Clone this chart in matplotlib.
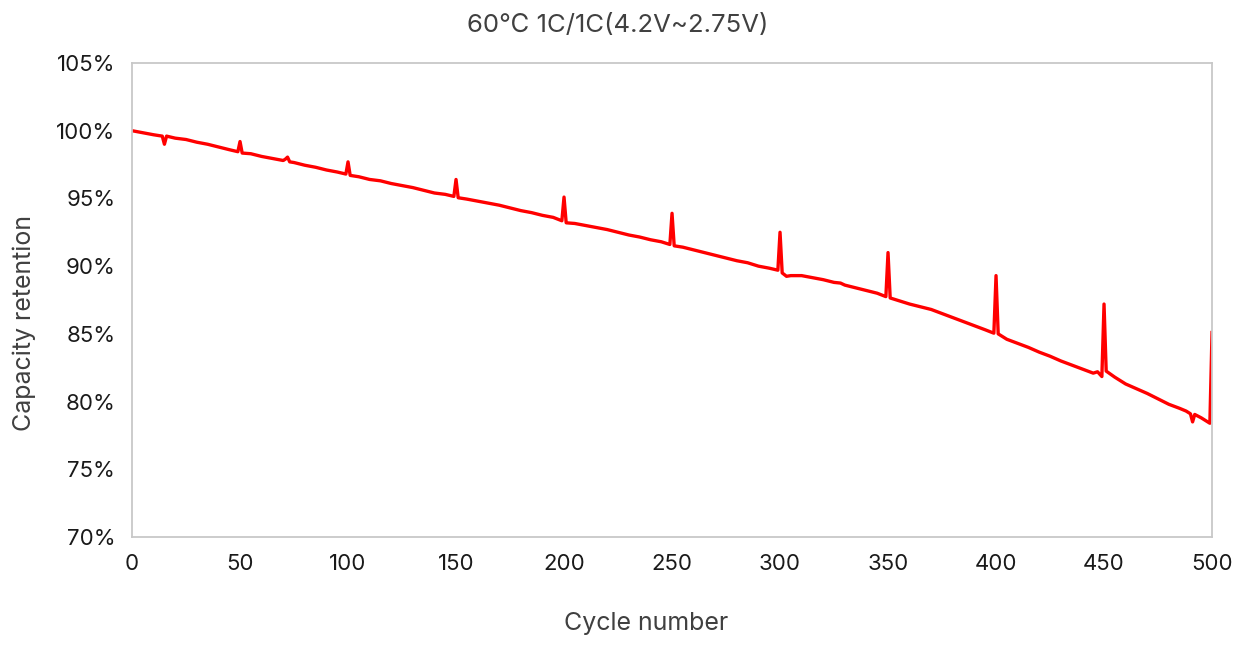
import matplotlib
matplotlib.use("Agg")
import matplotlib.pyplot as plt
from matplotlib.ticker import FuncFormatter

plt.rcParams["font.family"] = ["Inter", "Noto Sans CJK KR", "DejaVu Sans"]

# cycle-life test, capacity retention (%)
CYCLES = [0, 5, 10, 14, 15, 16, 20, 25, 30, 35, 40, 45, 49, 50, 51, 55, 60, 65, 70, 71, 72, 73, 75, 80,
          85, 90, 95, 99, 100, 101, 105, 110, 115, 120, 125, 130, 135, 140, 145, 149, 150, 151, 155,
          160, 165, 170, 175, 180, 185, 190, 195, 199, 200, 201, 205, 210, 215, 220, 225, 230, 235,
          240, 245, 249, 250, 251, 255, 260, 265, 270, 275, 280, 285, 290, 295, 299, 300, 301, 303,
          305, 310, 315, 320, 325, 328, 330, 335, 340, 345, 349, 350, 351, 355, 360, 365, 370, 375,
          380, 385, 390, 395, 399, 400, 401, 405, 410, 415, 420, 425, 430, 435, 440, 445, 447, 449,
          450, 451, 455, 460, 465, 470, 475, 480, 485, 488, 490, 491, 492, 495, 499, 500]
RETENTION = [100.0, 99.85, 99.7, 99.6, 99.0, 99.6, 99.45, 99.35, 99.15, 99.0, 98.8, 98.6, 98.45, 99.2,
             98.35, 98.3, 98.1, 97.95, 97.8, 97.9, 98.05, 97.7, 97.65, 97.45, 97.3, 97.1, 96.95, 96.8,
             97.7, 96.7, 96.6, 96.4, 96.3, 96.1, 95.95, 95.8, 95.6, 95.4, 95.3, 95.15, 96.4, 95.05,
             94.95, 94.8, 94.65, 94.5, 94.3, 94.1, 93.95, 93.75, 93.6, 93.35, 95.1, 93.2, 93.15, 93.0,
             92.85, 92.7, 92.5, 92.3, 92.15, 91.95, 91.8, 91.6, 93.9, 91.5, 91.4, 91.2, 91.0, 90.8,
             90.6, 90.4, 90.25, 90.0, 89.85, 89.7, 92.5, 89.5, 89.25, 89.3, 89.3, 89.15, 89.0, 88.8,
             88.75, 88.6, 88.4, 88.2, 88.0, 87.75, 91.0, 87.65, 87.45, 87.2, 87.0, 86.8, 86.5, 86.2,
             85.9, 85.6, 85.3, 85.05, 89.3, 85.0, 84.6, 84.3, 84.0, 83.65, 83.35, 83.0, 82.7, 82.4,
             82.1, 82.2, 81.85, 87.2, 82.25, 81.8, 81.3, 80.95, 80.6, 80.2, 79.8, 79.5, 79.3, 79.1,
             78.5, 79.05, 78.8, 78.4, 85.1]

TITLE = "60\u2103 1C/1C(4.2V~2.75V)"
YTICKS = [70, 75, 80, 85, 90, 95, 100, 105]
XTICKS = [0, 50, 100, 150, 200, 250, 300, 350, 400, 450, 500]

fig = plt.figure(figsize=(12.35, 6.46), dpi=100)
ax = fig.add_axes([0.1069, 0.1687, 0.8745, 0.7338])
ax.plot(CYCLES, RETENTION, color="#ff0000", lw=2.4, solid_joinstyle="round")

ax.set_xlim(0, 500); ax.set_ylim(70, 105)
ax.set_xticks(XTICKS); ax.set_yticks(YTICKS)
ax.yaxis.set_major_formatter(FuncFormatter(lambda v, _: f"{v:.0f}%"))
ax.tick_params(length=0, labelsize=16, colors="#1a1a1a")
ax.tick_params(axis="x", pad=12)
ax.tick_params(axis="y", pad=12)
for s in ax.spines.values():
    s.set_color("#c8c8c8"); s.set_linewidth(1.3)

fig.text(0.5, 0.960, TITLE, ha="center", va="center", fontsize=18.5, color="#404040")
fig.text(0.523, 0.035, "Cycle number", ha="center", va="center", fontsize=18, color="#404040")
fig.text(0.0195, 0.50, "Capacity retention", ha="center", va="center", rotation=90, fontsize=18, color="#404040")

fig.savefig("out.png", dpi=100)
